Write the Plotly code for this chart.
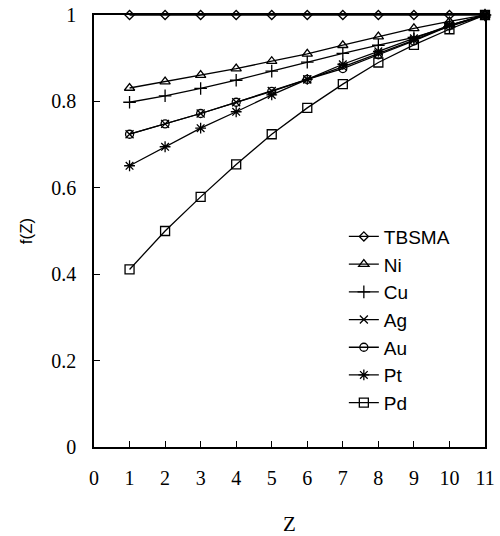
import plotly.graph_objects as go

z = [1, 2, 3, 4, 5, 6, 7, 8, 9, 10, 11]
tbsma = [1, 1, 1, 1, 1, 1, 1, 1, 1, 1, 1]
ni = [0.831, 0.846, 0.861, 0.876, 0.893, 0.910, 0.930, 0.950, 0.969, 0.985, 1.0]
cu = [0.798, 0.813, 0.830, 0.849, 0.870, 0.891, 0.911, 0.930, 0.948, 0.973, 1.0]
ag = [0.724, 0.748, 0.772, 0.798, 0.824, 0.851, 0.880, 0.911, 0.942, 0.976, 1.0]
au = [0.724, 0.748, 0.772, 0.798, 0.823, 0.851, 0.876, 0.908, 0.940, 0.975, 1.0]
pt = [0.651, 0.695, 0.738, 0.776, 0.815, 0.851, 0.886, 0.916, 0.946, 0.976, 1.0]
pd_ = [0.411, 0.500, 0.579, 0.654, 0.724, 0.785, 0.840, 0.890, 0.931, 0.967, 1.0]

series = [
    ("TBSMA", tbsma, "diamond-open", 7),
    ("Ni", ni, "triangle-up-open", 9),
    ("Cu", cu, "cross-thin-open", 9),
    ("Ag", ag, "x-thin-open", 8),
    ("Au", au, "circle-open", 8),
    ("Pt", pt, "asterisk-open", 9),
    ("Pd", pd_, "square-open", 9),
]

fig = go.Figure()
for name, vals, sym, size in series:
    fig.add_trace(go.Scatter(
        x=z, y=vals, name=name, mode="lines+markers",
        line=dict(color="black", width=1.3),
        marker=dict(symbol=sym, size=size, color="black",
                    line=dict(color="black", width=1.3)),
        cliponaxis=False,
    ))

fig.update_layout(
    width=500, height=536,
    margin=dict(l=94, r=15, t=15, b=89),
    paper_bgcolor="white", plot_bgcolor="white",
    showlegend=True,
    legend=dict(x=0.639, y=0.531, xanchor="left", yanchor="top",
                font=dict(family="Liberation Sans, Arial", size=19, color="black"),
                bgcolor="rgba(0,0,0,0)", tracegroupgap=0),
    font=dict(color="black"),
)
fig.update_xaxes(
    range=[0, 11], tickmode="array", tickvals=list(range(12)),
    ticks="inside", ticklen=6, tickwidth=1.3, tickcolor="black",
    showline=True, linecolor="black", linewidth=1.5, mirror=True,
    showgrid=False, zeroline=False, automargin=False,
    tickfont=dict(family="Liberation Serif, Times New Roman", size=20, color="black"),
    ticklabelstandoff=12,
    title=dict(text="Z", font=dict(family="Liberation Serif, Times New Roman", size=21, color="black"),
               standoff=32),
)
fig.update_yaxes(
    range=[0, 1], tickmode="array", tickvals=[0, 0.2, 0.4, 0.6, 0.8, 1],
    ticktext=["0", "0.2", "0.4", "0.6", "0.8", "1"],
    ticks="inside", ticklen=6, tickwidth=1.3, tickcolor="black",
    showline=True, linecolor="black", linewidth=1.5, mirror=True,
    showgrid=False, zeroline=False, automargin=False,
    tickfont=dict(family="Liberation Serif, Times New Roman", size=20, color="black"),
    ticklabelstandoff=12,
    title=dict(text="f(Z)", font=dict(family="Liberation Sans, Arial", size=17, color="black"),
               standoff=14),
)

fig.write_html("out.html")
